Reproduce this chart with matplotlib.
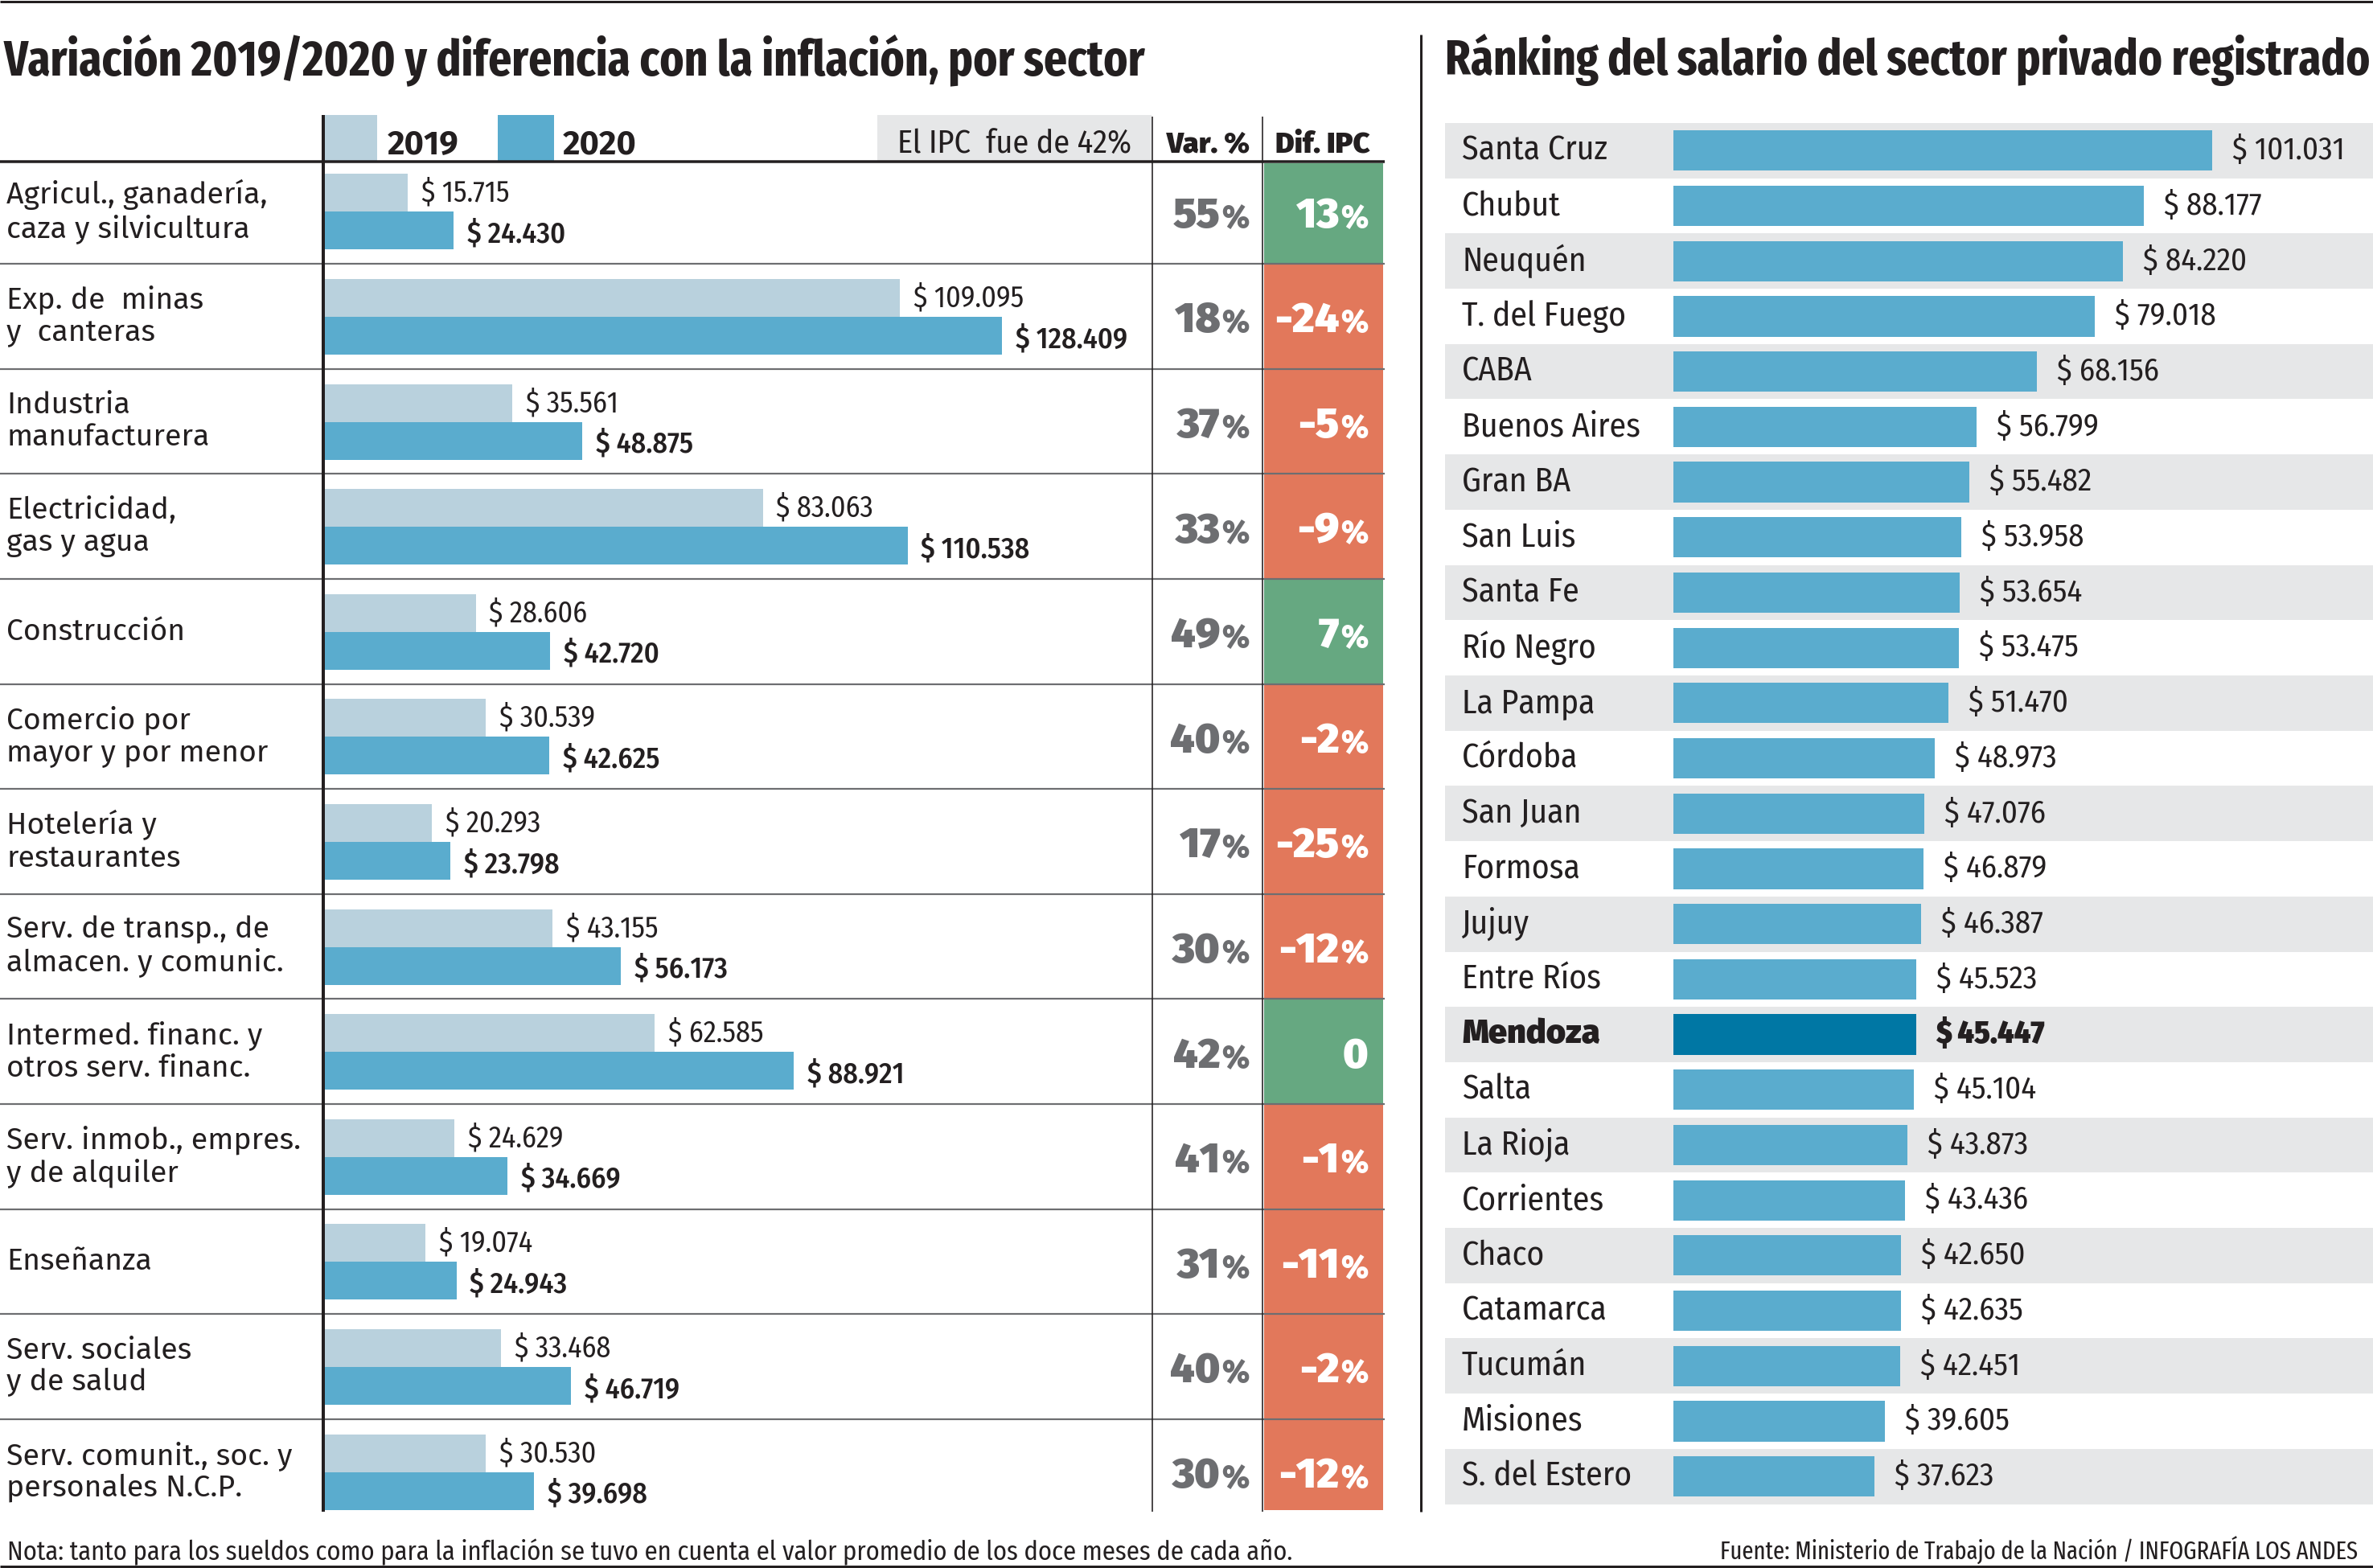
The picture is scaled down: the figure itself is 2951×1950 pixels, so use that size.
import matplotlib
matplotlib.use("Agg")
import matplotlib.pyplot as plt
from matplotlib.patches import Rectangle
from matplotlib.offsetbox import TextArea, HPacker, AnnotationBbox

W, H, DPI = 2951, 1950, 100

# ---- datos: sectores ----
sectores = ["Agricul., ganadería,\ncaza y silvicultura", "Exp. de  minas\ny  canteras",
            "Industria\nmanufacturera", "Electricidad,\ngas y agua", "Construcción",
            "Comercio por\nmayor y por menor", "Hotelería y\nrestaurantes",
            "Serv. de transp., de\nalmacen. y comunic.", "Intermed. financ. y\notros serv. financ.",
            "Serv. inmob., empres.\ny de alquiler", "Enseñanza", "Serv. sociales\ny de salud",
            "Serv. comunit., soc. y\npersonales N.C.P."]
sal_2019 = [15715, 109095, 35561, 83063, 28606, 30539, 20293, 43155, 62585, 24629, 19074, 33468, 30530]
sal_2020 = [24430, 128409, 48875, 110538, 42720, 42625, 23798, 56173, 88921, 34669, 24943, 46719, 39698]
var_pct = [55, 18, 37, 33, 49, 40, 17, 30, 42, 41, 31, 40, 30]
dif_ipc = [13, -24, -5, -9, 7, -2, -25, -12, 0, -1, -11, -2, -12]

# ---- datos: provincias ----
provincias = ["Santa Cruz", "Chubut", "Neuquén", "T. del Fuego", "CABA", "Buenos Aires", "Gran BA",
              "San Luis", "Santa Fe", "Río Negro", "La Pampa", "Córdoba", "San Juan", "Formosa",
              "Jujuy", "Entre Ríos", "Mendoza", "Salta", "La Rioja", "Corrientes", "Chaco",
              "Catamarca", "Tucumán", "Misiones", "S. del Estero"]
salario_prov = [101031, 88177, 84220, 79018, 68156, 56799, 55482, 53958, 53654, 53475, 51470, 48973,
                47076, 46879, 46387, 45523, 45447, 45104, 43873, 43436, 42650, 42635, 42451, 39605, 37623]
destacada = "Mendoza"

titulo_izq = "Variación 2019/2020 y diferencia con la inflación, por sector"
titulo_der = "Ránking del salario del sector privado registrado"
nota = "Nota: tanto para los sueldos como para la inflación se tuvo en cuenta el valor promedio de los doce meses de cada año."
fuente = "Fuente: Ministerio de Trabajo de la Nación / INFOGRAFÍA LOS ANDES"

C19 = "#b9d1dd"
C20 = "#5aacce"
CMZA = "#0077a4"
VERDE = "#66a881"
ROJO = "#e2785b"
GRIS_BOX = "#e6e7e8"
TXT = "#231f20"
GRIS_TXT = "#6d6e71"

FIRA = "Fira Sans"
COND = "Fira Sans Condensed"
XCOND = "Fira Sans Extra Condensed"


def pesos(v):
    return "$ " + f"{v:,}".replace(",", ".")


fig = plt.figure(figsize=(W / DPI, H / DPI), dpi=DPI)
bg = fig.add_axes([0, 0, 1, 1])
bg.set_xlim(0, W)
bg.set_ylim(H, 0)
bg.axis("off")


def px_axes(x0, y0, x1, y1):
    ax = fig.add_axes([x0 / W, 1 - y1 / H, (x1 - x0) / W, (y1 - y0) / H])
    ax.patch.set_alpha(0)
    ax.axis("off")
    return ax


def hline(y, x0, x1, lw, color=TXT, z=5):
    bg.plot([x0, x1], [y, y], color=color, lw=lw * 0.72, solid_capstyle="butt", zorder=z)


def vline(x, y0, y1, lw, color=TXT, z=5):
    bg.plot([x, x], [y0, y1], color=color, lw=lw * 0.72, solid_capstyle="butt", zorder=z)


# marcos generales
hline(1.5, 0, W, 3)
hline(1948, 0, W, 3)
vline(1767, 43, 1880, 3)

# ---------------- panel izquierdo ----------------
ROW0, ROWH = 197.5, 130.6
n = len(sectores)
BAR_X0, BAR_X1 = 404, 1432
PX_PER_PESO = 6.557 / 1000

bg.add_patch(Rectangle((1091, 143), 1432 - 1091, 57, color=GRIS_BOX, lw=0))
bg.add_patch(Rectangle((402, 143), 67, 57, color=C19, lw=0))
bg.add_patch(Rectangle((619, 143), 70, 57, color=C20, lw=0))
bg.text(482, 191, "2019", fontsize=30, family=FIRA, weight="bold", color=TXT, va="baseline")
bg.text(700, 191, "2020", fontsize=30, family=FIRA, weight="bold", color=TXT, va="baseline")
bg.text(1262, 191, "El IPC  fue de 42%", fontsize=29, family=COND, color=TXT, va="baseline", ha="center")
bg.text(1503, 190, "Var. %", fontsize=26, family=FIRA, weight=900, color=TXT, va="baseline", ha="center")
bg.text(1645, 190, "Dif. IPC", fontsize=26, family=FIRA, weight=900, color=TXT, va="baseline", ha="center")

for i in range(n):
    top = ROW0 + i * ROWH
    bot = top + ROWH
    mid = top + ROWH / 2
    bg.text(8, mid, sectores[i], fontsize=27, family=FIRA, color=TXT, va="center", ha="left",
            linespacing=1.15)
    # caja dif IPC
    y0 = max(top, 203)
    y1 = min(bot, 1878)
    col = VERDE if dif_ipc[i] >= 0 else ROJO
    bg.add_patch(Rectangle((1572, y0), 1720 - 1572, y1 - y0, color=col, lw=0, zorder=2))
    if i > 0:
        hline(top, 0, 1722, 2.2, color="#6d6e71", z=4)

    # var % y dif %
    box = HPacker(children=[TextArea(str(var_pct[i]), textprops=dict(fontsize=38, family=FIRA, weight=900, color=GRIS_TXT)),
                            TextArea("%", textprops=dict(fontsize=28, family=FIRA, weight=900, color=GRIS_TXT))],
                  align="baseline", pad=0, sep=1)
    bg.add_artist(AnnotationBbox(box, (1553, mid + 6), xycoords="data", frameon=False,
                                 box_alignment=(1, 0.5), zorder=6))
    partes = [TextArea(str(dif_ipc[i]), textprops=dict(fontsize=38, family=FIRA, weight=900, color="white"))]
    if dif_ipc[i] != 0:
        partes.append(TextArea("%", textprops=dict(fontsize=28, family=FIRA, weight=900, color="white")))
    box = HPacker(children=partes, align="baseline", pad=0, sep=1)
    bg.add_artist(AnnotationBbox(box, (1701, mid + 6), xycoords="data", frameon=False,
                                 box_alignment=(1, 0.5), zorder=6))

hline(201, 0, 1722, 3.5, z=6)
vline(402, 143, 1880, 4, z=6)
vline(1433, 145, 1880, 1.6)
vline(1570, 145, 1880, 1.6)

axL = px_axes(BAR_X0, ROW0, BAR_X1, ROW0 + n * ROWH)
axL.set_xlim(0, (BAR_X1 - BAR_X0) / PX_PER_PESO)
axL.set_ylim(n, 0)
pos = list(range(n))
axL.barh([p + 0.325 for p in pos], sal_2019, height=0.36, color=C19, lw=0)
axL.barh([p + 0.685 for p in pos], sal_2020, height=0.36, color=C20, lw=0)
for i in range(n):
    axL.annotate(pesos(sal_2019[i]), (sal_2019[i], i + 0.325), xytext=(12, 0), textcoords="offset points",
                 va="center", ha="left", fontsize=26, family=COND, color=TXT)
    axL.annotate(pesos(sal_2020[i]), (sal_2020[i], i + 0.685), xytext=(12, -3), textcoords="offset points",
                 va="center", ha="left", fontsize=26, family=COND, weight=500, color=TXT)

# ---------------- panel derecho ----------------
R0, RH = 153, 68.7
m = len(provincias)
RB_X0, RB_X1 = 2081, W
PX_PER_PESO_R = 6.635 / 1000
for i in range(m):
    top = R0 + i * RH
    if i % 2 == 0:
        bg.add_patch(Rectangle((1797, top), W - 1797, RH, color=GRIS_BOX, lw=0, zorder=1))
    es_dest = provincias[i] == destacada
    bg.text(1818, top + RH / 2, provincias[i], fontsize=30, family=COND if not es_dest else FIRA,
            weight=900 if es_dest else "normal", color=TXT, va="center", ha="left", zorder=6)

axR = px_axes(RB_X0, R0, RB_X1, R0 + m * RH)
axR.set_xlim(0, (RB_X1 - RB_X0) / PX_PER_PESO_R)
axR.set_ylim(m, 0)
colores = [CMZA if p == destacada else C20 for p in provincias]
axR.barh([i + 0.5 for i in range(m)], salario_prov, height=0.73, color=colores, lw=0)
for i in range(m):
    es_dest = provincias[i] == destacada
    axR.annotate(pesos(salario_prov[i]), (salario_prov[i], i + 0.5), xytext=(18, 0), textcoords="offset points",
                 va="center", ha="left", fontsize=28, family=COND,
                 weight=900 if es_dest else "normal", color=TXT)

# ---------------- titulos y pie ----------------
t1 = bg.text(5, 93, titulo_izq, fontsize=36, family=XCOND, weight="bold", color=TXT, va="baseline")
t2 = bg.text(1797, 93, titulo_der, fontsize=36, family=XCOND, weight="bold", color=TXT, va="baseline")
t3 = bg.text(9, 1940, nota, fontsize=20, family=COND, color=TXT, va="baseline")
t4 = bg.text(2932, 1940, fuente, fontsize=20, family=XCOND, color=TXT, va="baseline", ha="right")

renderer = fig.canvas.get_renderer()
for t, ancho in [(t1, 1418), (t2, 1148), (t3, 1605), (t4, 795)]:
    bb = t.get_window_extent(renderer)
    t.set_fontsize(t.get_fontsize() * ancho / bb.width)

fig.savefig("out.png", dpi=DPI)
